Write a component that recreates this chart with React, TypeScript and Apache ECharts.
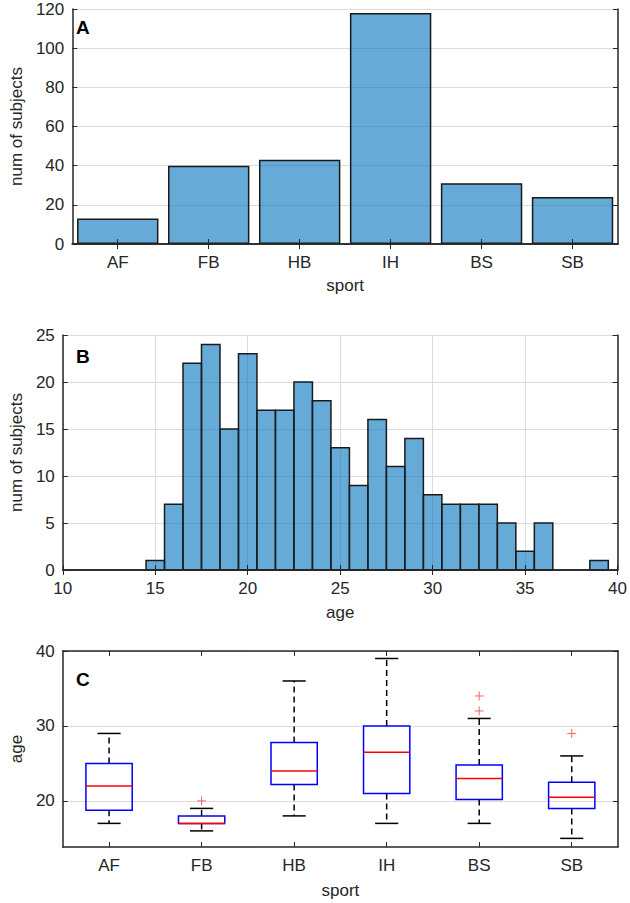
import React, { useEffect, useRef } from "react";
import * as echarts from "echarts";

// ---- data ----
const sports = ["AF", "FB", "HB", "IH", "BS", "SB"];
const subjectsPerSport = [13, 40, 43, 118, 31, 24];

const ageBinStarts = [14.5, 15.5, 16.5, 17.5, 18.5, 19.5, 20.5, 21.5, 22.5, 23.5, 24.5, 25.5, 26.5, 27.5, 28.5, 29.5, 30.5, 31.5, 32.5, 33.5, 34.5, 35.5, 36.5, 37.5, 38.5];
const ageBinEnds = [15.5, 16.5, 17.5, 18.5, 19.5, 20.5, 21.5, 22.5, 23.5, 24.5, 25.5, 26.5, 27.5, 28.5, 29.5, 30.5, 31.5, 32.5, 33.5, 34.5, 35.5, 36.5, 37.5, 38.5, 39.5];
const ageBinCounts = [1, 7, 22, 24, 15, 23, 17, 17, 20, 18, 13, 9, 16, 11, 14, 8, 7, 7, 7, 5, 2, 5, 0, 0, 1];

const boxLower = [17, 16, 18, 17, 17, 15];
const boxQ1 = [18.75, 17, 22.2, 21, 20.2, 19];
const boxMedian = [22, 17, 24, 26.5, 23, 20.5];
const boxQ3 = [25, 18, 27.8, 30, 24.8, 22.5];
const boxUpper = [29, 19, 36, 39, 31, 26];

const outlierSport = ["FB", "BS", "BS", "SB"];
const outlierAge = [20, 34, 32, 29];

const ageTicksC = [20, 30, 40];

// ---- styles ----
const FONT = "'Liberation Sans', Arial, Helvetica, sans-serif";
const TXT = "#262626";
const GRIDC = "#dcdcdc";
const BAR_FILL = "rgba(0,114,189,0.6)";
const BAR_EDGE = "#1a1a1a";
const FS = 17;

const axisLine = { show: true, lineStyle: { color: TXT, width: 1.5 } };
const tickIn = { show: true, inside: true, length: 5, lineStyle: { color: TXT, width: 1 } };
const label = { color: TXT, fontSize: FS, fontFamily: FONT };
const nameStyle = { color: TXT, fontSize: FS, fontFamily: FONT };
const split = (show: boolean) => ({ show, lineStyle: { color: GRIDC, width: 1 } });
const noLabel = { show: false };

export default function App() {
  const ref = useRef<HTMLDivElement>(null);
  useEffect(() => {
    if (!ref.current) return;
    const chart = echarts.init(ref.current, undefined, { renderer: "svg" });

    const grids = [
      { left: 61, top: 9, width: 557, height: 235 },
      { left: 61, top: 335, width: 557, height: 235 },
      { left: 61, top: 651, width: 557, height: 196 },
    ];

    const xAxis: any[] = [
      // 0: A bottom
      {
        gridIndex: 0, type: "category", data: sports, position: "bottom", z: 10,
        axisLine, axisTick: { ...tickIn, alignWithLabel: true }, axisLabel: { ...label, margin: 10 },
        splitLine: split(false), name: "sport", nameLocation: "middle", nameGap: 33, nameTextStyle: nameStyle,
      },
      // 1: A top
      {
        gridIndex: 0, type: "category", data: sports, position: "top", z: 10,
        axisLine, axisTick: { ...tickIn, alignWithLabel: true }, axisLabel: noLabel, splitLine: split(false),
      },
      // 2: B bottom (grid lines + labels, below bars)
      {
        gridIndex: 1, type: "value", min: 10, max: 40, interval: 5, position: "bottom", z: 1,
        axisLine: { show: false }, axisTick: { show: false }, axisLabel: { ...label, margin: 10 }, splitLine: split(true),
        name: "age", nameLocation: "middle", nameGap: 34, nameTextStyle: nameStyle,
      },
      // 3: B top
      {
        gridIndex: 1, type: "value", min: 10, max: 40, interval: 5, position: "top", z: 10,
        axisLine, axisTick: tickIn, axisLabel: noLabel, splitLine: split(false),
      },
      // 4: C bottom
      {
        gridIndex: 2, type: "category", data: sports, position: "bottom", z: 10,
        axisLine, axisTick: { ...tickIn, alignWithLabel: true }, axisLabel: { ...label, margin: 10 },
        splitLine: split(false), name: "sport", nameLocation: "middle", nameGap: 35, nameTextStyle: nameStyle,
      },
      // 5: C top
      {
        gridIndex: 2, type: "category", data: sports, position: "top", z: 10,
        axisLine, axisTick: { ...tickIn, alignWithLabel: true }, axisLabel: noLabel, splitLine: split(false),
      },
      // 6: B bottom overlay (axis line + ticks above bars)
      {
        gridIndex: 1, type: "value", min: 10, max: 40, interval: 5, position: "bottom", offset: 0, z: 10,
        axisLine, axisTick: tickIn, axisLabel: noLabel, splitLine: split(false),
      },
    ];

    const yAxis: any[] = [
      {
        gridIndex: 0, type: "value", min: 0, max: 120, interval: 20, position: "left", z: 1,
        axisLine, axisTick: tickIn, axisLabel: { ...label, margin: 8 }, splitLine: split(true),
        name: "num of subjects", nameLocation: "middle", nameGap: 42, nameTextStyle: nameStyle,
      },
      {
        gridIndex: 0, type: "value", min: 0, max: 120, interval: 20, position: "right", z: 10,
        axisLine, axisTick: tickIn, axisLabel: noLabel, splitLine: split(false),
      },
      {
        gridIndex: 1, type: "value", min: 0, max: 25, interval: 5, position: "left", z: 1,
        axisLine, axisTick: tickIn, axisLabel: { ...label, margin: 8 }, splitLine: split(true),
        name: "num of subjects", nameLocation: "middle", nameGap: 32, nameTextStyle: nameStyle,
      },
      {
        gridIndex: 1, type: "value", min: 0, max: 25, interval: 5, position: "right", z: 10,
        axisLine, axisTick: tickIn, axisLabel: noLabel, splitLine: split(false),
      },
      {
        gridIndex: 2, type: "value", min: 13.85, max: 40, position: "left", z: 1,
        axisLine, axisTick: { ...tickIn, customValues: ageTicksC },
        axisLabel: { ...label, margin: 8, customValues: ageTicksC }, splitLine: split(true),
        name: "age", nameLocation: "middle", nameGap: 30, nameTextStyle: nameStyle,
      },
      {
        gridIndex: 2, type: "value", min: 13.85, max: 40, position: "right", z: 10,
        axisLine, axisTick: { ...tickIn, customValues: ageTicksC }, axisLabel: noLabel, splitLine: split(false),
      },
    ];

    const histData = ageBinStarts.map((s, i) => [s, ageBinEnds[i], ageBinCounts[i]]);
    const boxData = sports.map((_, i) => [i, boxLower[i], boxQ1[i], boxMedian[i], boxQ3[i], boxUpper[i]]);
    const outData = outlierSport.map((s, i) => [sports.indexOf(s), outlierAge[i]]);

    const series: any[] = [
      {
        type: "bar", xAxisIndex: 0, yAxisIndex: 0, data: subjectsPerSport, barCategoryGap: "10.5%",
        itemStyle: { color: BAR_FILL, borderColor: BAR_EDGE, borderWidth: 1.5 }, z: 3,
      },
      {
        type: "custom", xAxisIndex: 2, yAxisIndex: 2, data: histData, z: 3,
        encode: { x: [0, 1], y: 2 },
        renderItem: (params: any, api: any) => {
          const c = api.value(2);
          if (!c) return null;
          const p0 = api.coord([api.value(0), c]);
          const p1 = api.coord([api.value(1), 0]);
          return {
            type: "rect",
            shape: { x: p0[0], y: p0[1], width: p1[0] - p0[0], height: p1[1] - p0[1] },
            style: { fill: BAR_FILL, stroke: BAR_EDGE, lineWidth: 1.5 },
          };
        },
      },
      {
        type: "custom", xAxisIndex: 4, yAxisIndex: 4, data: boxData, z: 3,
        encode: { x: 0, y: [1, 2, 3, 4, 5] },
        renderItem: (params: any, api: any) => {
          const idx = api.value(0);
          const band = api.size([1, 0])[0];
          const pLow = api.coord([idx, api.value(1)]);
          const pQ1 = api.coord([idx, api.value(2)]);
          const pMed = api.coord([idx, api.value(3)]);
          const pQ3 = api.coord([idx, api.value(4)]);
          const pUp = api.coord([idx, api.value(5)]);
          const cx = pMed[0];
          const hb = band * 0.25;
          const hc = band * 0.125;
          const dash = { stroke: "#000", lineWidth: 1.5, lineDash: [6, 4] };
          const solid = { stroke: "#000", lineWidth: 1.5 };
          return {
            type: "group",
            children: [
              { type: "line", shape: { x1: cx, y1: pQ3[1], x2: cx, y2: pUp[1] }, style: dash },
              { type: "line", shape: { x1: cx, y1: pQ1[1], x2: cx, y2: pLow[1] }, style: dash },
              { type: "line", shape: { x1: cx - hc, y1: pUp[1], x2: cx + hc, y2: pUp[1] }, style: solid },
              { type: "line", shape: { x1: cx - hc, y1: pLow[1], x2: cx + hc, y2: pLow[1] }, style: solid },
              {
                type: "rect",
                shape: { x: cx - hb, y: pQ3[1], width: 2 * hb, height: pQ1[1] - pQ3[1] },
                style: { fill: "none", stroke: "#0000ff", lineWidth: 1.5 },
              },
              { type: "line", shape: { x1: cx - hb, y1: pMed[1], x2: cx + hb, y2: pMed[1] }, style: { stroke: "#ff0000", lineWidth: 1.5 } },
            ],
          };
        },
      },
      {
        type: "custom", xAxisIndex: 4, yAxisIndex: 4, data: outData, z: 4,
        encode: { x: 0, y: 1 },
        renderItem: (params: any, api: any) => {
          const p = api.coord([api.value(0), api.value(1)]);
          const s = 4.5;
          const st = { stroke: "#ff6060", lineWidth: 1 };
          return {
            type: "group",
            children: [
              { type: "line", shape: { x1: p[0] - s, y1: p[1], x2: p[0] + s, y2: p[1] }, style: st },
              { type: "line", shape: { x1: p[0], y1: p[1] - s, x2: p[0], y2: p[1] + s }, style: st },
            ],
          };
        },
      },
    ];

    const letter = (t: string, y: number) => ({
      type: "text", x: 76, y, z: 20,
      style: { text: t, fill: "#000", font: `bold 19px ${FONT}`, textVerticalAlign: "middle", verticalAlign: "middle" },
    });

    chart.setOption({
      animation: false,
      backgroundColor: "#fff",
      grid: grids,
      xAxis,
      yAxis,
      series,
      graphic: [letter("A", 27), letter("B", 356), letter("C", 679)],
    });
    return () => chart.dispose();
  }, []);
  return <div ref={ref} style={{ position: "absolute", left: 0, top: 0, width: 630, height: 903 }} />;
}
